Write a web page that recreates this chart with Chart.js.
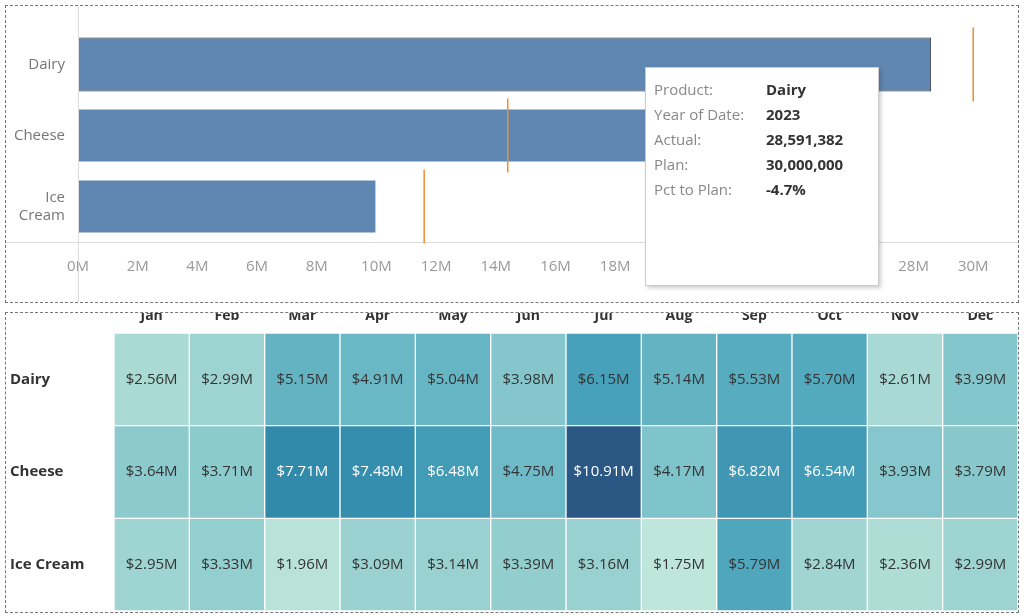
<!DOCTYPE html>
<html>
<head>
<meta charset="utf-8">
<script src="https://cdn.jsdelivr.net/npm/chart.js@4"></script>
<style>
  body { margin: 0; background: #fff; font-family: "Open Sans", sans-serif; }
  .panel { position: absolute; left: 5px; width: 1012px; border: 1px dashed #777; }
  canvas { display: block; }
  #tip { position: absolute; left: 645px; top: 67px; width: 232px; height: 217px; background: #fff;
         border: 1px solid #ccc; box-shadow: 2px 2px 4px rgba(0,0,0,0.2); font-size: 15px; }
  #tip div { position: absolute; left: 8px; color: #888; white-space: nowrap; }
  #tip span { position: absolute; left: 112px; font-weight: bold; color: #333; white-space: nowrap; }
</style>
</head>
<body>
<div class="panel" style="top:5px;height:296px"><canvas id="top" width="1012" height="296"></canvas></div>
<div class="panel" style="top:312px;height:299px"><canvas id="heat" width="1012" height="299"></canvas></div>
<div id="tip">
  <div style="top:11px">Product:<span>Dairy</span></div>
  <div style="top:36px">Year of Date:<span>2023</span></div>
  <div style="top:61px">Actual:<span>28,591,382</span></div>
  <div style="top:86px">Plan:<span>30,000,000</span></div>
  <div style="top:111px">Pct to Plan:<span>-4.7%</span></div>
</div>
<script>
// top chart data (millions)
var products = ["Dairy", "Cheese", "Ice Cream"];
var actual = [28.59, 22.0, 10.0];
var plan = [30.0, 14.4, 11.6];

// heatmap data (millions)
var months = ["Jan", "Feb", "Mar", "Apr", "May", "Jun", "Jul", "Aug", "Sep", "Oct", "Nov", "Dec"];
var dairy = [2.56, 2.99, 5.15, 4.91, 5.04, 3.98, 6.15, 5.14, 5.53, 5.70, 2.61, 3.99];
var cheese = [3.64, 3.71, 7.71, 7.48, 6.48, 4.75, 10.91, 4.17, 6.82, 6.54, 3.93, 3.79];
var iceCream = [2.95, 3.33, 1.96, 3.09, 3.14, 3.39, 3.16, 1.75, 5.79, 2.84, 2.36, 2.99];

Chart.defaults.font.family = '"Open Sans", sans-serif';
Chart.defaults.animation = false;

// Plan lines + frame lines
var planLines = {
  id: "planLines",
  afterDatasetsDraw(chart) {
    var c = chart.ctx, x = chart.scales.x, y = chart.scales.y, a = chart.chartArea;
    c.save();
    c.strokeStyle = "#ddd"; c.lineWidth = 1;
    c.beginPath();
    c.moveTo(0, a.bottom + 0.5); c.lineTo(chart.width, a.bottom + 0.5);
    c.moveTo(a.left + 0.5, 0); c.lineTo(a.left + 0.5, chart.height);
    c.stroke();
    c.strokeStyle = "#f28e2b"; c.lineWidth = 1.5;
    plan.forEach(function (v, i) {
      var px = x.getPixelForValue(v), py = y.getPixelForValue(i);
      c.beginPath(); c.moveTo(px, py - 37); c.lineTo(px, py + 37); c.stroke();
    });
    c.restore();
  }
};

new Chart(document.getElementById("top"), {
  type: "bar",
  data: {
    labels: ["Dairy", "Cheese", ["Ice", "Cream"]],
    datasets: [{
      data: actual,
      backgroundColor: "#5f87b2",
      borderColor: ["#2b2b2b", "rgba(0,0,0,0)", "rgba(0,0,0,0)"],
      borderWidth: 1,
      borderSkipped: false,
      barPercentage: 0.76,
      categoryPercentage: 1
    }]
  },
  options: {
    indexAxis: "y",
    responsive: false,
    devicePixelRatio: 1,
    layout: { padding: 0 },
    plugins: { legend: { display: false }, tooltip: { enabled: false } },
    scales: {
      x: {
        min: 0, max: 31.5,
        grid: { display: false }, border: { display: false },
        afterBuildTicks: function (s) {
          s.ticks = [];
          for (var v = 0; v <= 30; v += 2) s.ticks.push({ value: v });
        },
        afterFit: function (s) { s.height = 60; },
        ticks: { color: "#999", font: { size: 15 }, padding: 8, maxRotation: 0, autoSkip: false,
                 callback: function (v) { return v + "M"; } }
      },
      y: {
        grid: { display: false }, border: { display: false },
        afterFit: function (s) { s.width = 72; },
        ticks: { color: "#777", font: { size: 15 }, padding: 5 }
      }
    }
  },
  plugins: [planLines]
});
</script>
<script>
var rows = [dairy, cheese, iceCream];
var stops = [[1.75, [191, 230, 218]], [3, [157, 211, 209]], [4.5, [118, 191, 201]],
             [6, [74, 163, 187]], [8, [46, 134, 168]], [10.91, [42, 87, 131]]];
function heatColor(v) {
  for (var i = 1; i < stops.length; i++) {
    if (v <= stops[i][0]) {
      var a = stops[i - 1], b = stops[i], t = (v - a[0]) / (b[0] - a[0]);
      var c = a[1].map(function (k, j) { return Math.round(k + (b[1][j] - k) * t); });
      return "rgb(" + c.join(",") + ")";
    }
  }
  return "rgb(42,87,131)";
}

var cellText = {
  id: "cellText",
  afterDatasetsDraw(chart) {
    var c = chart.ctx, x = chart.scales.x, y = chart.scales.y;
    c.save();
    c.textBaseline = "middle";
    c.font = '15px "Open Sans", sans-serif';
    c.textAlign = "center";
    rows.forEach(function (vals, r) {
      var py = y.getPixelForValue(r + 0.5);
      vals.forEach(function (v, j) {
        c.fillStyle = v > 6.3 ? "#fff" : "#333";
        c.fillText("$" + v.toFixed(2) + "M", x.getPixelForValue(j), py);
      });
    });
    c.textAlign = "left";
    c.fillStyle = "#333";
    c.font = 'bold 15px "Open Sans", sans-serif';
    products.forEach(function (p, r) {
      c.fillText(p, 4, y.getPixelForValue(r + 0.5));
    });
    c.restore();
  }
};

new Chart(document.getElementById("heat"), {
  type: "bar",
  data: {
    labels: months,
    datasets: rows.map(function (vals, r) {
      return {
        data: vals.map(function () { return [r, r + 1]; }),
        backgroundColor: vals.map(heatColor),
        borderColor: "#fff",
        borderWidth: 1,
        borderSkipped: false,
        grouped: false,
        barPercentage: 1,
        categoryPercentage: 1
      };
    })
  },
  options: {
    responsive: false,
    devicePixelRatio: 1,
    layout: { padding: { left: 108, right: 0, bottom: 1 } },
    plugins: { legend: { display: false }, tooltip: { enabled: false } },
    scales: {
      x: {
        position: "top",
        grid: { display: false }, border: { display: false },
        afterFit: function (s) { s.height = 20; },
        ticks: { color: "#333", font: { size: 14, weight: "bold" }, padding: 1, maxRotation: 0, autoSkip: false }
      },
      y: { display: false, min: 0, max: 3, reverse: true }
    }
  },
  plugins: [cellText]
});
</script>
</body>
</html>
